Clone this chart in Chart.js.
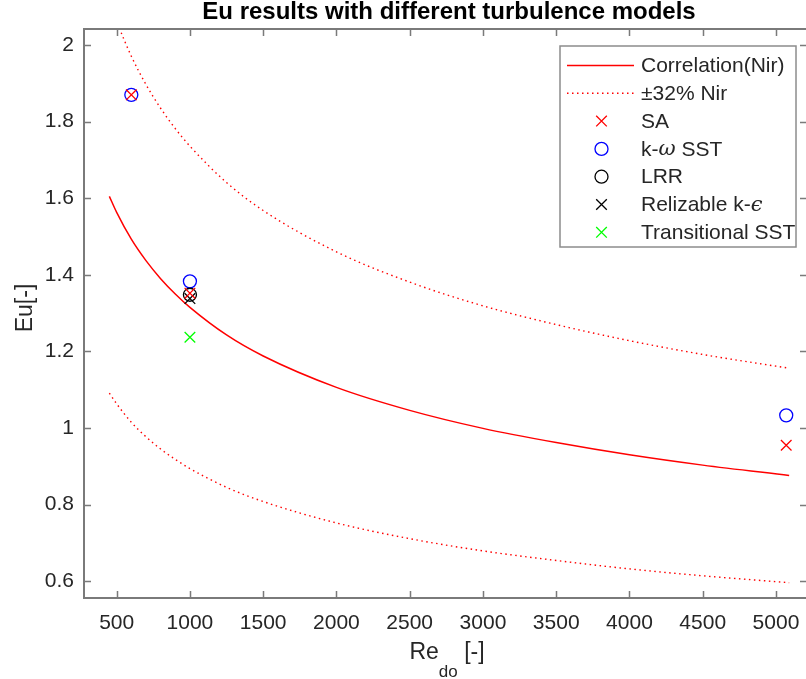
<!DOCTYPE html>
<html>
<head>
<meta charset="utf-8">
<title>Eu results with different turbulence models</title>
<script src="https://cdn.jsdelivr.net/npm/chart.js@4.4.1/dist/chart.umd.min.js"></script>
<style>
  html, body { margin: 0; padding: 0; background: #ffffff; overflow: hidden; }
  #wrap { width: 806px; height: 679px; position: relative; }
</style>
</head>
<body>
<div id="wrap"><canvas id="c"></canvas></div>
<script>
// Nir correlation and its ±32% band, sampled along Re_do
const reCurve  = [450, 500, 600, 700, 800, 900, 1000, 1250, 1500, 2000, 2500, 3000, 3500, 4000, 4500, 5090];
const euNir    = [1.605, 1.563, 1.493, 1.437, 1.390, 1.350, 1.315, 1.243, 1.188, 1.106, 1.046, 0.999, 0.962, 0.930, 0.903, 0.876];
const euUpper  = [2.119, 2.063, 1.971, 1.897, 1.835, 1.782, 1.736, 1.641, 1.568, 1.460, 1.381, 1.319, 1.270, 1.228, 1.192, 1.156];
const euLower  = [1.091, 1.063, 1.015, 0.977, 0.945, 0.918, 0.894, 0.845, 0.808, 0.752, 0.711, 0.679, 0.654, 0.632, 0.614, 0.596];

// CFD results per turbulence model
const saRe   = [600, 1000, 5070];
const saEu   = [1.870, 1.352, 0.955];
const kwRe   = [600, 1000, 5070];
const kwEu   = [1.870, 1.383, 1.033];
const lrrRe  = [1000];
const lrrEu  = [1.348];
const rkeRe  = [1000];
const rkeEu  = [1.338];
const tsstRe = [1000];
const tsstEu = [1.237];

// Axis ticks and text
const xTicks = [500, 1000, 1500, 2000, 2500, 3000, 3500, 4000, 4500, 5000];
const yTicks = [0.6, 0.8, 1.0, 1.2, 1.4, 1.6, 1.8, 2.0];
const seriesNames = ['Correlation(Nir)', '\u00B132% Nir', 'SA', 'k-\u03C9 SST', 'LRR', 'Relizable k-\u03F5', 'Transitional SST'];
const chartTitle = 'Eu results with different turbulence models';
const yTitle = 'Eu[-]';

const FONT = '"Liberation Sans", Arial, Helvetica, sans-serif';
const AXIS_GRAY = '#7a7a7a';
const TEXT_DARK = '#262626';

const pts = (xs, ys) => xs.map((x, i) => ({ x: x, y: ys[i] }));

const lineDs = (label, ys, dash) => ({
  label: label,
  data: pts(reCurve, ys),
  showLine: true,
  borderColor: 'rgb(255,0,0)',
  borderWidth: dash ? 1.4 : 1.5,
  borderDash: dash || [],
  pointRadius: 0,
  pointHoverRadius: 0,
  cubicInterpolationMode: 'monotone',
  fill: false
});

const markDs = (label, xs, ys, style, color, radius) => ({
  label: label,
  data: pts(xs, ys),
  showLine: false,
  pointStyle: style,
  pointRadius: radius,
  pointHoverRadius: radius,
  pointBorderColor: color,
  pointBackgroundColor: 'rgba(0,0,0,0)',
  pointBorderWidth: 1.3,
  borderColor: color,
  backgroundColor: 'rgba(0,0,0,0)'
});

const datasets = [
  Object.assign(lineDs(seriesNames[0], euNir, null), { order: 9 }),
  Object.assign(lineDs(seriesNames[1], euUpper, [1.5, 3.5]), { order: 8 }),
  Object.assign(lineDs(seriesNames[1], euLower, [1.5, 3.5]), { order: 7 }),
  Object.assign(markDs(seriesNames[2], saRe, saEu, 'crossRot', 'rgb(255,0,0)', 7.5), { order: 1 }),
  Object.assign(markDs(seriesNames[3], kwRe, kwEu, 'circle', 'rgb(0,0,255)', 6.5), { order: 5 }),
  Object.assign(markDs(seriesNames[4], lrrRe, lrrEu, 'circle', 'rgb(0,0,0)', 6.5), { order: 4 }),
  Object.assign(markDs(seriesNames[5], rkeRe, rkeEu, 'crossRot', 'rgb(0,0,0)', 7.5), { order: 3 }),
  Object.assign(markDs(seriesNames[6], tsstRe, tsstEu, 'crossRot', 'rgb(0,255,0)', 7.5), { order: 2 })
];

// Legend rows: index of the dataset whose style each row shows
const legendRows = [0, 1, 3, 4, 5, 6, 7];

function drawMarker(ctx, style, color, x, y, r) {
  ctx.save();
  ctx.strokeStyle = color;
  ctx.lineWidth = 1.3;
  ctx.beginPath();
  if (style === 'circle') {
    ctx.arc(x, y, r, 0, Math.PI * 2);
  } else {
    const d = r * Math.SQRT1_2;
    ctx.moveTo(x - d, y - d); ctx.lineTo(x + d, y + d);
    ctx.moveTo(x + d, y - d); ctx.lineTo(x - d, y + d);
  }
  ctx.stroke();
  ctx.restore();
}

// Writes a label, setting Greek letters in italic as TeX does
function drawRichText(ctx, text, x, y, size) {
  const parts = text.split(/([\u03B1-\u03C9\u03F5])/).filter(s => s.length);
  let cx = x;
  parts.forEach(p => {
    const greek = /^[\u03B1-\u03C9\u03F5]$/.test(p);
    ctx.font = (greek ? 'italic ' : '') + size + 'px ' + (greek ? '"DejaVu Serif", serif' : FONT);
    ctx.fillText(p, cx, y);
    cx += ctx.measureText(p).width;
  });
}

const framePlugin = {
  id: 'frame',
  afterDatasetsDraw(chart) {
    const { ctx, chartArea: a, scales } = chart;
    ctx.save();
    ctx.strokeStyle = AXIS_GRAY;
    ctx.lineWidth = 2;
    // axes box: left, bottom and top edges (right edge sits at the canvas border)
    ctx.beginPath();
    ctx.moveTo(a.right + 2, a.top); ctx.lineTo(a.left, a.top);
    ctx.lineTo(a.left, a.bottom); ctx.lineTo(a.right + 2, a.bottom);
    ctx.stroke();
    ctx.lineWidth = 1.5;
    ctx.beginPath();
    const tl = 7;
    xTicks.forEach(v => {
      const px = Math.round(scales.x.getPixelForValue(v)) + 0.5;
      ctx.moveTo(px, a.bottom); ctx.lineTo(px, a.bottom - tl);
      ctx.moveTo(px, a.top); ctx.lineTo(px, a.top + tl);
    });
    yTicks.forEach(v => {
      const py = Math.round(scales.y.getPixelForValue(v)) + 0.5;
      ctx.moveTo(a.left, py); ctx.lineTo(a.left + tl, py);
      ctx.moveTo(a.right + 1, py); ctx.lineTo(a.right + 1 - tl, py);
    });
    ctx.stroke();
    ctx.restore();
  },
  afterDraw(chart) {
    const { ctx } = chart;
    ctx.save();
    ctx.fillStyle = '#000000';

    // title
    ctx.font = 'bold 24px ' + FONT;
    ctx.textAlign = 'center';
    ctx.textBaseline = 'alphabetic';
    ctx.fillText(chartTitle, 449, 19);

    // y axis title
    ctx.fillStyle = TEXT_DARK;
    ctx.save();
    ctx.translate(31.5, 308);
    ctx.rotate(-Math.PI / 2);
    ctx.font = '23px ' + FONT;
    ctx.textAlign = 'center';
    ctx.fillText(yTitle, 0, 0);
    ctx.restore();

    // x axis title with subscript
    ctx.textAlign = 'left';
    const big = '23px ' + FONT, small = '17px ' + FONT;
    ctx.font = big; const wRe = ctx.measureText('Re').width;
    ctx.font = small; const wSub = ctx.measureText('do').width;
    ctx.font = big; const wTail = ctx.measureText(' [-]').width;
    const x0 = 447 - (wRe + wSub + wTail) / 2;
    ctx.font = big; ctx.fillText('Re', x0, 659);
    ctx.font = small; ctx.fillText('do', x0 + wRe, 677);
    ctx.font = big; ctx.fillText(' [-]', x0 + wRe + wSub, 659);

    // legend
    const L = 560, T = 46, R = 796, B = 247;
    ctx.fillStyle = '#ffffff';
    ctx.fillRect(L, T, R - L, B - T);
    ctx.strokeStyle = '#8c8c8c';
    ctx.lineWidth = 1.5;
    ctx.strokeRect(L, T, R - L, B - T);
    ctx.textBaseline = 'middle';
    legendRows.forEach((di, i) => {
      const ds = chart.data.datasets[di];
      const y = 65.5 + i * 27.8;
      if (ds.showLine) {
        ctx.save();
        ctx.strokeStyle = ds.borderColor;
        ctx.lineWidth = ds.borderWidth;
        ctx.setLineDash(ds.borderDash || []);
        ctx.beginPath();
        ctx.moveTo(567, y); ctx.lineTo(634, y);
        ctx.stroke();
        ctx.restore();
      } else {
        drawMarker(ctx, ds.pointStyle, ds.pointBorderColor, 601.5, y, ds.pointRadius);
      }
      ctx.fillStyle = TEXT_DARK;
      drawRichText(ctx, ds.label, 641, y + 1, 21);
    });
    ctx.restore();
  }
};

new Chart(document.getElementById('c'), {
  type: 'scatter',
  data: { datasets: datasets },
  options: {
    responsive: true,
    maintainAspectRatio: false,
    animation: false,
    layout: { autoPadding: false, padding: { top: 29, right: 0, bottom: 0, left: 0 } },
    plugins: {
      legend: { display: false },
      title: { display: false },
      tooltip: { enabled: false }
    },
    scales: {
      x: {
        type: 'linear',
        min: 277,
        max: 5205,
        grid: { display: false, drawTicks: false },
        border: { display: false },
        afterBuildTicks: s => { s.ticks = xTicks.map(v => ({ value: v })); },
        afterFit: s => { s.height = 81; s.paddingLeft = 0; s.paddingRight = 0; },
        ticks: {
          color: TEXT_DARK,
          font: { family: FONT, size: 21 },
          padding: 13,
          maxRotation: 0,
          autoSkip: false,
          callback: v => String(v)
        }
      },
      y: {
        type: 'linear',
        min: 0.556,
        max: 2.042,
        grid: { display: false, drawTicks: false },
        border: { display: false },
        afterBuildTicks: s => { s.ticks = yTicks.map(v => ({ value: v })); },
        afterFit: s => { s.width = 84; s.paddingTop = 0; s.paddingBottom = 0; },
        ticks: {
          color: TEXT_DARK,
          font: { family: FONT, size: 21 },
          padding: 10,
          autoSkip: false,
          callback: v => String(Number(v.toFixed(1)))
        }
      }
    }
  },
  plugins: [framePlugin]
});
</script>
</body>
</html>
